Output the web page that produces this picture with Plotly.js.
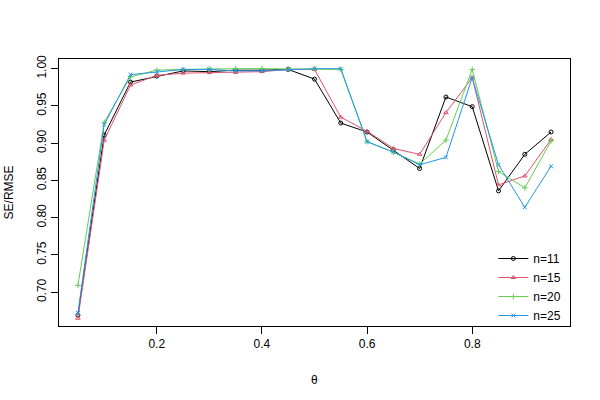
<!DOCTYPE html>
<html>
<head>
<meta charset="utf-8">
<script src="https://cdn.plot.ly/plotly-3.0.1.min.js"></script>
<style>
  body { margin: 0; background: #fff; }
  #chart { width: 600px; height: 400px; }
</style>
</head>
<body>
<div id="chart"></div>
<script>
// theta grid
var theta = [0.05, 0.10, 0.15, 0.20, 0.25, 0.30, 0.35, 0.40, 0.45, 0.50,
             0.55, 0.60, 0.65, 0.70, 0.75, 0.80, 0.85, 0.90, 0.95];

// SE/RMSE
var n11 = [0.669, 0.911, 0.982, 0.990, 0.997, 0.996, 0.998, 0.998, 0.999, 0.986,
           0.927, 0.915, 0.891, 0.866, 0.962, 0.949, 0.836, 0.885, 0.915];
var n15 = [0.665, 0.904, 0.978, 0.991, 0.994, 0.995, 0.995, 0.996, 0.999, 0.999,
           0.935, 0.916, 0.893, 0.885, 0.941, 0.988, 0.844, 0.856, 0.905];
var n20 = [0.709, 0.928, 0.989, 0.998, 0.999, 1.000, 1.000, 1.000, 1.000, 1.000,
           0.999, 0.902, 0.888, 0.872, 0.904, 0.999, 0.862, 0.840, 0.903];
var n25 = [0.672, 0.925, 0.992, 0.996, 0.999, 0.999, 0.997, 0.997, 0.999, 1.000,
           1.000, 0.902, 0.888, 0.871, 0.881, 0.988, 0.871, 0.814, 0.869];

var seriesNames = ['n=11', 'n=15', 'n=20', 'n=25'];
var yTicks = [0.70, 0.75, 0.80, 0.85, 0.90, 0.95, 1.00];
var xTicks = [0.2, 0.4, 0.6, 0.8];

var colors = ['#000000', '#DF536B', '#61D04F', '#2297E6'];
var symbols = ['circle-open', 'triangle-up-open', 'cross-thin-open', 'x-thin-open'];
var allY = [n11, n15, n20, n25];

var data = [];
for (var i = 0; i < allY.length; i++) {
  data.push({
    x: theta,
    y: allY[i],
    type: 'scatter',
    mode: 'lines+markers',
    name: seriesNames[i],
    line: { color: colors[i], width: 1 },
    marker: {
      symbol: symbols[i],
      size: 4,
      color: colors[i],
      line: { color: colors[i], width: 1 }
    }
  });
}

var axisFont = { family: 'Liberation Sans, Arial, sans-serif', size: 12, color: '#000' };

var layout = {
  width: 600,
  height: 400,
  margin: { l: 59, r: 30, t: 59, b: 74 },
  paper_bgcolor: '#fff',
  plot_bgcolor: '#fff',
  font: axisFont,
  showlegend: true,
  legend: {
    x: 0.85, y: -0.015, xanchor: 'left', yanchor: 'bottom',
    bgcolor: 'rgba(0,0,0,0)',
    font: axisFont,
    tracegroupgap: 0
  },
  xaxis: {
    range: [0.014, 0.986],
    tickvals: xTicks,
    ticktext: xTicks.map(function (v) { return v.toFixed(1); }),
    ticks: 'outside', ticklen: 7, tickcolor: '#000',
    showline: true, mirror: true, linecolor: '#000', linewidth: 1,
    showgrid: false, zeroline: false,
    tickfont: axisFont
  },
  yaxis: {
    range: [0.6546, 1.013],
    tickvals: yTicks,
    ticktext: yTicks.map(function (v) { return v.toFixed(2); }),
    tickangle: -90,
    ticks: 'outside', ticklen: 7, tickcolor: '#000',
    showline: true, mirror: true, linecolor: '#000', linewidth: 1,
    showgrid: false, zeroline: false,
    tickfont: axisFont
  },
  annotations: [
    {
      text: 'θ', xref: 'paper', yref: 'paper', x: 0.5, y: -0.202,
      showarrow: false, font: axisFont, xanchor: 'center', yanchor: 'middle'
    },
    {
      text: 'SE/RMSE', xref: 'paper', yref: 'paper', x: -0.098, y: 0.5,
      textangle: -90, showarrow: false, font: axisFont,
      xanchor: 'center', yanchor: 'middle'
    }
  ]
};

Plotly.newPlot('chart', data, layout, { staticPlot: true });
</script>
</body>
</html>
